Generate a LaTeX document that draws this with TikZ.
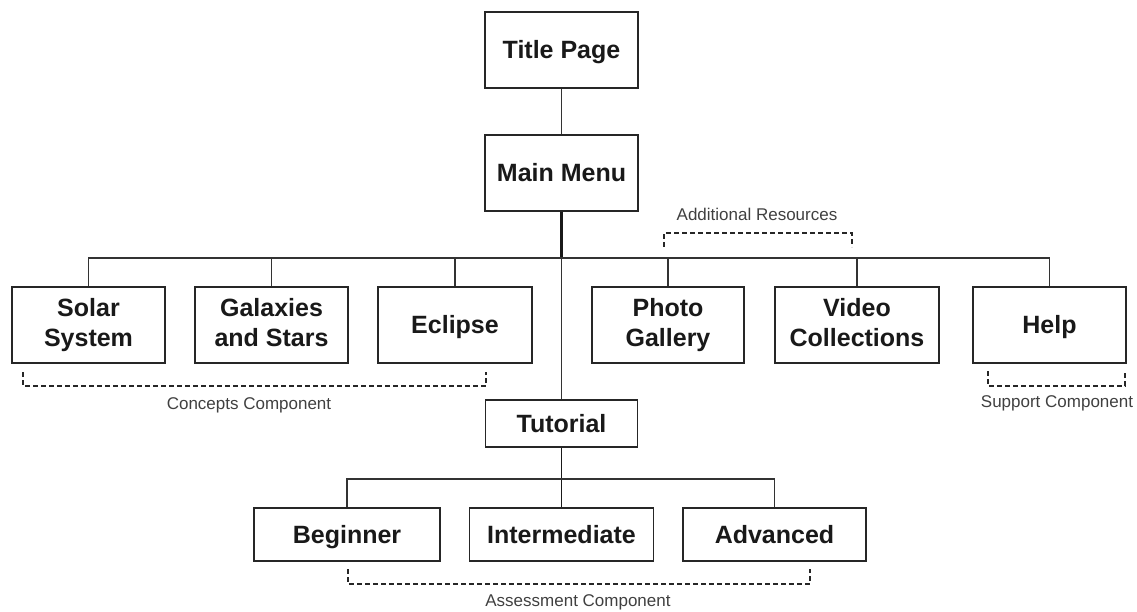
\documentclass[tikz,border=0pt]{standalone}
\usepackage{fontspec}
\setmainfont{Liberation Sans}
\begin{document}
\begin{tikzpicture}[x=1pt,y=-1pt,
  box/.style={draw=black!85,line width=1.7pt,fill=white,inner sep=0pt,align=center,
    font=\fontsize{25}{30}\selectfont\bfseries,text=black!90},
  oneline/.style={box,text height=17.9pt,text depth=0pt},
  conn/.style={draw=black!80,line width=1.5pt},
  thickconn/.style={draw=black!90,line width=2.4pt},
  grp/.style={draw=black!85,line width=1.2pt,dash pattern=on 5pt off 3pt},
  lbl/.style={font=\fontsize{17}{20}\selectfont,text=black!75,inner sep=0pt}]
\useasboundingbox (0,0) rectangle (1137,612);
% boxes
\node[oneline,minimum width=153,minimum height=76] (title) at (561.5,50) {Title Page};
\node[oneline,minimum width=153,minimum height=76] (menu) at (561.5,173) {Main Menu};
\node[box,minimum width=153,minimum height=76] (solar) at (88.5,325) {Solar\\System};
\node[box,minimum width=153,minimum height=76] (galaxies) at (271.5,325) {Galaxies\\and Stars\vphantom{y}};
\node[oneline,minimum width=154,minimum height=76] (eclipse) at (455,325) {Eclipse};
\node[box,minimum width=152,minimum height=76] (photo) at (668,325) {Photo\\Gallery};
\node[box,minimum width=164,minimum height=76] (video) at (857,325) {Video\\Collections\vphantom{y}};
\node[oneline,minimum width=153,minimum height=76] (help) at (1049.5,325) {Help};
\node[oneline,minimum width=152,minimum height=47] (tutorial) at (561.5,423.5) {Tutorial};
\node[oneline,minimum width=186,minimum height=53] (beginner) at (347,534.5) {Beginner};
\node[oneline,minimum width=184,minimum height=53] (intermediate) at (561.5,534.5) {Intermediate};
\node[oneline,minimum width=183,minimum height=53] (advanced) at (774.5,534.5) {Advanced};
% connectors
\coordinate (bus) at (561.5,258);
\draw[conn] (title) -- (menu);
\draw[thickconn] (menu.south) -- (bus);
\draw[conn] (bus) -- (tutorial.north);
\draw[conn] (solar.north) |- (bus);
\draw[conn] (galaxies.north) -- (galaxies.north |- bus);
\draw[conn] (eclipse.north) -- (eclipse.north |- bus);
\draw[conn] (help.north) |- (bus);
\draw[conn] (photo.north) -- (photo.north |- bus);
\draw[conn] (video.north) -- (video.north |- bus);
\draw[thickconn,line width=1.9pt] (tutorial.south) -- (intermediate.north);
\draw[conn] (beginner.north) -- ++(0,-28) -| (advanced.north);
% group brackets
\draw[grp] (23,372) |- (486,386) -- (486,372);
\node[lbl] (concepts) at (249,405) {Concepts Component};
\draw[grp] (664,247) |- (852,233) -- (852,247);
\node[lbl] (additional) at (757,214) {Additional Resources};
\draw[grp] (988,371) |- (1125,386) -- (1125,371);
\node[lbl] (support) at (1057,403) {Support Component};
\draw[grp] (348,569) |- (810,584) -- (810,569);
\node[lbl] (assessment) at (578,602) {Assessment Component};
\end{tikzpicture}
\end{document}
